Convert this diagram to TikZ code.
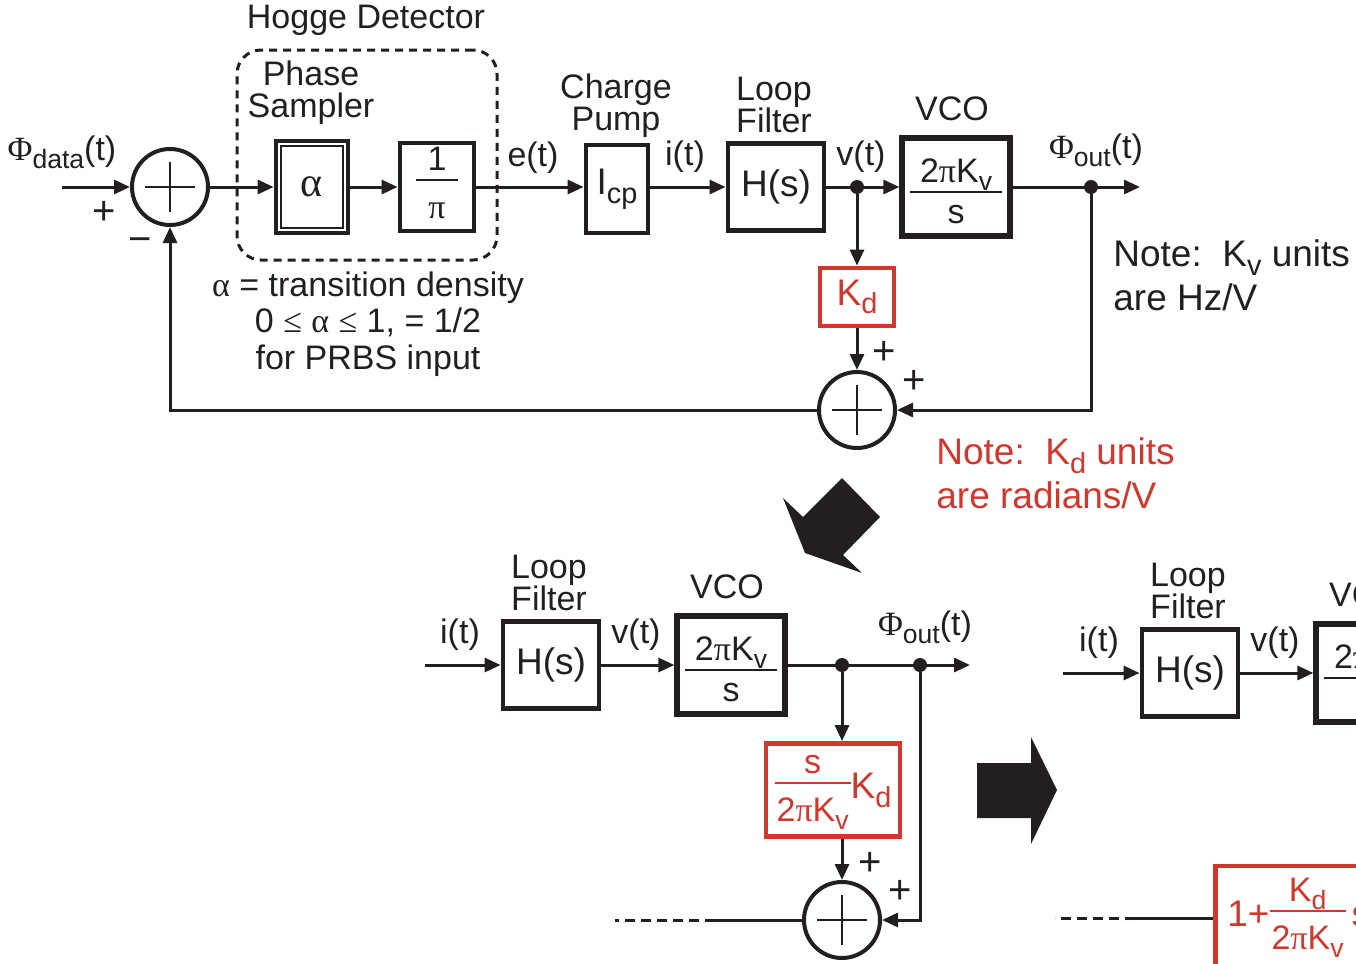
\documentclass[tikz,border=0pt]{standalone}
\usepackage{fontspec}
\setmainfont{Liberation Sans}
\newfontfamily\grkfont{Liberation Serif}
\usetikzlibrary{arrows.meta}

\definecolor{kdred}{RGB}{208,55,45}
\definecolor{inkblack}{RGB}{35,31,32}
\setlength{\arrayrulewidth}{1pt}

\newcommand{\fsbox}{\fontsize{18.5}{20}\selectfont}
\newcommand{\fsfrac}{\fontsize{17}{18}\selectfont}
\newcommand{\fslbl}{\fontsize{17}{16}\selectfont}
\newcommand{\fsnote}{\fontsize{18.5}{22}\selectfont}
\newcommand{\gr}[1]{{\grkfont #1}}
\newcommand{\lsub}[1]{\raisebox{-0.45ex}{\scalebox{0.78}{#1}}}
\newcommand{\boxfrac}[3][3pt]{\begin{tabular}{@{\hspace{#1}}c@{\hspace{#1}}}#2\\[-1pt]\hline\rule{0pt}{1.1em}#3\end{tabular}}
% VCO gain, set a little lower in its box
\newcommand{\vcofrac}{\begin{tabular}{@{\hspace{5pt}}c@{\hspace{5pt}}}\rule{0pt}{21.4pt}2\gr{π}K\lsub{v}\\[-1pt]\hline\rule{0pt}{15.5pt}s\end{tabular}}

\tikzset{
    blk/.style={draw=inkblack, line width=2.4pt, inner sep=0pt, font=\fsbox, text=inkblack},
    redblk/.style={draw=kdred, text=kdred, line width=2.4pt, inner sep=0pt, font=\fsbox},
    sumnode/.style={draw=inkblack, circle, line width=2pt, minimum size=38pt, inner sep=0pt},
    dotnode/.style={circle, fill=inkblack, minimum size=7pt, inner sep=0pt},
    lbl/.style={font=\fslbl, text=inkblack},
    sgn/.style={font=\fontsize{20}{20}\selectfont, text=inkblack},
    sig/.style={draw=inkblack, line width=1.5pt, -{Triangle[length=8pt,width=7pt]}},
    wire/.style={draw=inkblack, line width=1.5pt},
    dashwire/.style={draw=inkblack, line width=1.5pt, dash pattern=on 5pt off 3pt},
}

% summing junction: name, x, y
\newcommand{\drawsummer}[3]{
    \node[sumnode] (#1) at (#2,#3) {};
    \draw[line width=1pt, inkblack] ([xshift=-12.5pt]#1.center) -- ([xshift=12.5pt]#1.center);
    \draw[line width=1pt, inkblack] ([yshift=-12.5pt]#1.center) -- ([yshift=12.5pt]#1.center);
}

% loop filter and VCO: prefix, x of H(s), y of the signal line
\newcommand{\drawfilterstage}[3]{
    \node[blk, minimum width=48pt, minimum height=43.5pt] (#1hs) at (#2,#3) {H(s)};
    \node[blk, line width=2.6pt, minimum width=54pt, minimum height=49pt, font=\fsfrac] (#1vco) at (#2+180,#3) {\vcofrac};
    \draw[sig] (#1hs) -- (#1vco);
    \node[lbl, align=center] (#1lf) at (#2-2,#3-82) {Loop\\Filter};
    \node[lbl] (#1vcolbl) at (#2+176,#3-78) {VCO};
    \node[lbl] (#1it) at (#2-91,#3-30) {i(t)};
    \node[lbl] (#1vt) at (#2+85,#3-30) {v(t)};
}

\begin{document}
\begin{tikzpicture}[x=0.5pt,y=-0.5pt]
\useasboundingbox (0,0) rectangle (1356,964);
\clip (0,0) rectangle (1356,964);

% -------------------------
% Hogge detector loop
% -------------------------
\coordinate (din) at (62,187);
\drawsummer{sumin}{170}{187}
\node[blk, minimum width=36pt, minimum height=46pt, font=\fontsize{21}{21}\selectfont] (alpha) at (312,187) {\gr{α}};
\draw[line width=1pt, inkblack] ([shift={(3.6pt,-3.6pt)}]alpha.north west) rectangle ([shift={(-3.6pt,3.6pt)}]alpha.south east);
\node[blk, minimum width=37pt, minimum height=44pt, font=\fsfrac] (invpi) at (437,187) {\boxfrac[6pt]{1}{\gr{π}}};
\node[draw=inkblack, line width=1.5pt, dash pattern=on 4pt off 3pt, rounded corners=12pt, minimum width=130pt, minimum height=105pt] (hogge) at (367,155) {};
\node[blk, minimum width=31pt, minimum height=44pt] (icp) at (617,189) {I\lsub{cp}};
\drawfilterstage{top}{776}{187}

\node[dotnode] (vdot) at (857,187) {};
\node[dotnode] (odot) at (1091,187) {};
\coordinate (pout) at (1140,187);
\node[redblk, minimum width=37pt, minimum height=29pt] (kd) at (857,297) {K\lsub{d}};
\drawsummer{sumfb}{857}{410}

\draw[sig] (din) -- (sumin);
\draw[sig] (sumin) -- (alpha);
\draw[sig] (alpha) -- (invpi);
\draw[sig] (invpi) -- (invpi -| icp.west);
\draw[sig] (icp.east |- tophs) -- (tophs);
\draw[sig] (topvco) -- (pout);
\draw[sig] (vdot) -- (kd);
\draw[sig] (kd) -- (sumfb);
\draw[sig] (odot) |- (sumfb);
\draw[sig] (sumfb) -| (sumin);

\node[lbl] (phidata) at (62,152) {\gr{Φ}\lsub{data}(t)};
\node[lbl] (hoggelbl) at (366,20) {Hogge Detector};
\node[lbl, align=center] (samplbl) at (311,93) {Phase\\Sampler};
\node[lbl] (etlbl) at (533,158) {e(t)};
\node[lbl, align=center] (cplbl) at (616,106) {Charge\\Pump};
\node[lbl] (phiout) at (1096,150) {\gr{Φ}\lsub{out}(t)};
\node[lbl, align=center, font=\fontsize{17}{18.3}\selectfont] (alphanote) at (368,324) {\gr{α} = transition density\\0 \gr{≤} \gr{α} \gr{≤} 1, = 1/2\\for PRBS input};
\node[font=\fsnote, text=inkblack, align=left, anchor=west, inner sep=0pt] (kvnote) at (1113,275) {Note:\ \ K\lsub{v} units\\are Hz/V};
\node[font=\fsnote, text=kdred, align=left, anchor=west, inner sep=0pt] (kdnote) at (936,473) {Note:\ \ K\lsub{d} units\\are radians/V};

% -------------------------
% Kd moved behind the VCO
% -------------------------
\coordinate (min) at (425,665);
\drawfilterstage{mid}{551}{665}
\node[dotnode] (mdot) at (842,665) {};
\node[dotnode] (modot) at (920,665) {};
\coordinate (mout) at (970,665);
\node[redblk, minimum width=67pt, minimum height=46.5pt] (redmid) at (833,790) {{\fsfrac\boxfrac[1pt]{s}{2\gr{π}K\lsub{v}}}K\lsub{d}};
\drawsummer{summid}{842}{920}
\coordinate (mcut) at (715,920);
\coordinate (mend) at (615,920);

\draw[sig] (min) -- (midhs);
\draw[sig] (midvco) -- (mout);
\draw[sig] (mdot) -- (mdot |- redmid.north);
\draw[sig] (mdot |- redmid.south) -- (summid);
\draw[sig] (modot) |- (summid);
\draw[wire] (summid) -- (mcut);
\draw[dashwire] (mcut) -- (mend);
\node[lbl] (mphi) at (925,627) {\gr{Φ}\lsub{out}(t)};

% -------------------------
% Combined block (cut at the edge)
% -------------------------
\coordinate (rin) at (1063,673);
\drawfilterstage{rgt}{1190}{673}
\node[redblk, anchor=west, inner xsep=6pt, minimum height=52pt] (redrgt) at (1213,918) {1+{\fsfrac\boxfrac[1pt]{K\lsub{d}}{2\gr{π}K\lsub{v}}}\hspace{3pt}s\hspace{30pt}};
\coordinate (rcut) at (1135,918);
\coordinate (rend) at (1055,918);

\draw[sig] (rin) -- (rgths);
\draw[wire] (redrgt) -- (rcut);
\draw[dashwire] (rcut) -- (rend);

% -------------------------
% Big arrows and signs
% -------------------------
\fill[inkblack] (783,498) -- (803,517) -- (842,478) -- (880,517) -- (843,555) -- (862,573) -- (805,553) -- cycle;
\fill[inkblack] (977,763) -- (1031,763) -- (1031,737) -- (1057,790) -- (1031,844) -- (1031,818) -- (977,818) -- cycle;

\foreach \x/\y/\s [count=\k] in {104/213/+, 140/245/−, 884/353/+, 914/382/+, 870/864/+, 900/892/+}
    \node[sgn] (sign\k) at (\x,\y) {\s};

\end{tikzpicture}
\end{document}
